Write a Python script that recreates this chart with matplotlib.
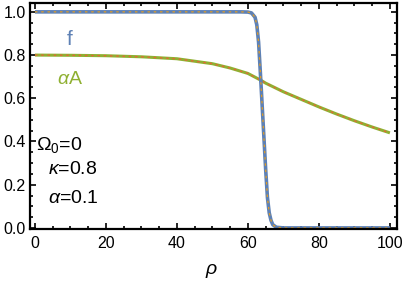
import matplotlib
matplotlib.use("Agg")
import matplotlib.pyplot as plt
from matplotlib import ticker

plt.rcParams['font.family'] = ['Liberation Sans', 'DejaVu Sans']
plt.rcParams['mathtext.fontset'] = 'custom'
plt.rcParams['mathtext.rm'] = 'Liberation Sans'
plt.rcParams['mathtext.it'] = 'Liberation Sans:italic'

# f(rho): kink profile
rho_f = [0, 10, 20, 30, 40, 50, 58, 60, 61, 62, 62.5, 63, 63.5, 64, 64.5, 65, 65.5, 66, 66.5, 67, 68, 70, 80, 90, 100]
f_vals = [1.0, 1.0, 1.0, 1.0, 1.0, 1.0, 1.0, 0.999, 0.995, 0.975, 0.94, 0.86, 0.72, 0.57, 0.42, 0.27, 0.14, 0.07, 0.035, 0.015, 0.003, 0.0, 0.0, 0.0, 0.0]

# alpha*A(rho)
rho_a = [0, 10, 20, 30, 40, 50, 55, 60, 63.7, 65, 70, 75, 80, 85, 90, 95, 100]
a_vals = [0.800, 0.799, 0.797, 0.792, 0.783, 0.760, 0.740, 0.715, 0.683, 0.670, 0.630, 0.595, 0.560, 0.527, 0.496, 0.467, 0.440]

W, H = 407, 285
fig = plt.figure(figsize=(W / 100, H / 100), dpi=100)
ax = fig.add_axes([30 / W, 56 / H, 367 / W, 226 / H])

# thick solid curve + thin dashed curve on top (two overlapping solutions)
ax.plot(rho_a, a_vals, color='#8FB032', lw=2.2, solid_capstyle='butt')
ax.plot(rho_a, a_vals, color='#EB6235', lw=0.9, ls=(0, (2, 3)))
ax.plot(rho_f, f_vals, color='#5E81B5', lw=2.6, solid_capstyle='butt')
ax.plot(rho_f, f_vals, color='#E19C24', lw=0.9, ls=(0, (2, 3)))

ax.set_xlim(-1.4, 102)
ax.set_ylim(-0.005, 1.041)
ax.xaxis.set_major_locator(ticker.MultipleLocator(20))
ax.xaxis.set_minor_locator(ticker.MultipleLocator(5))
ax.yaxis.set_major_locator(ticker.MultipleLocator(0.2))
ax.yaxis.set_minor_locator(ticker.MultipleLocator(0.05))
ax.yaxis.set_major_formatter(ticker.FormatStrFormatter('%.1f'))
ax.tick_params(which='both', direction='in', top=True, right=True, color='black', width=1.2)
ax.tick_params(which='major', length=4, labelsize=11.5)
ax.tick_params(axis='x', which='major', pad=5)
ax.tick_params(axis='y', which='major', pad=3)
ax.tick_params(which='minor', length=2.5)
for s in ax.spines.values():
    s.set_linewidth(1.6)

def px_text(x, y, s, **kw):
    fig.text(x / W, 1 - y / H, s, va='baseline', **kw)

px_text(212, 274, r'$\rho$', ha='center', fontsize=14)
px_text(67, 45, 'f', color='#5E81B5', fontsize=15)
px_text(57, 84, r'$\alpha$A', color='#8FB032', fontsize=14)
px_text(36, 150, r'$\Omega_0$=0', fontsize=14)
px_text(48, 174, r'$\kappa$=0.8', fontsize=14)
px_text(48, 203, r'$\alpha$=0.1', fontsize=14)

fig.savefig('out.png', dpi=100)
